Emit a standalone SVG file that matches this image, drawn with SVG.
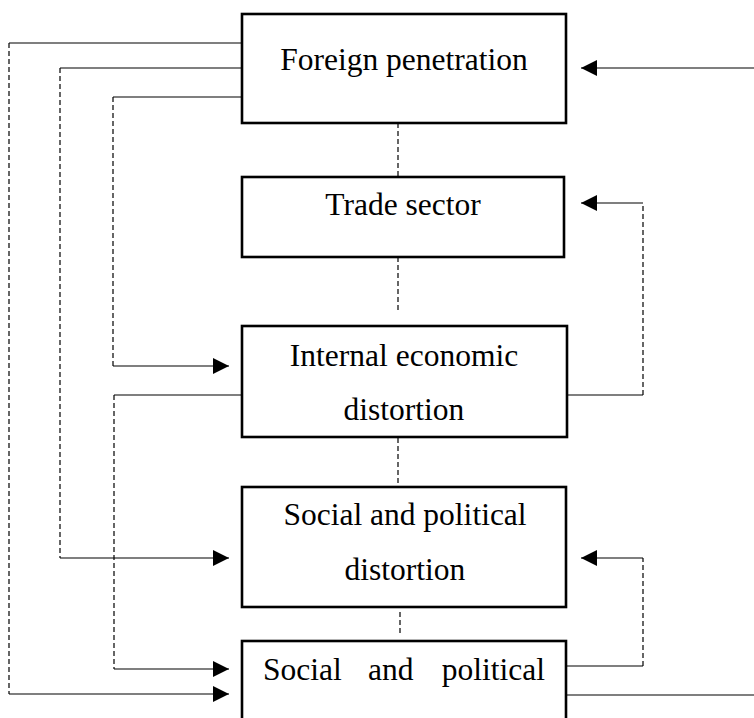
<svg xmlns="http://www.w3.org/2000/svg" width="754" height="718" viewBox="0 0 754 718">
<style>
.box{fill:#fff;stroke:#000;stroke-width:2.6}
.lbl{font-family:"Liberation Serif","Times New Roman",serif;font-size:31.5px;fill:#000}
.s{fill:none;stroke:#000;stroke-width:1.2}
.d{fill:none;stroke:#000;stroke-width:1.2;stroke-dasharray:5,3}
</style>
<defs>
<marker id="ah" markerUnits="userSpaceOnUse" markerWidth="16" markerHeight="16" refX="16" refY="8" orient="auto">
<path d="M0,0 L16,8 L0,16 z" fill="#000"/>
</marker>
</defs>
<rect width="754" height="718" fill="#fff"/>
<g id="connectors">
<path class="s" d="M242,43 H9"/><path class="d" d="M9,43 V694"/><path class="s" d="M9,694 H229" marker-end="url(#ah)"/>
<path class="s" d="M242,68 H60"/><path class="d" d="M60,68 V558"/><path class="s" d="M60,558 H229" marker-end="url(#ah)"/>
<path class="s" d="M242,97 H113"/><path class="d" d="M113,97 V366"/><path class="s" d="M113,366 H229" marker-end="url(#ah)"/>
<path class="s" d="M242,395 H114"/><path class="d" d="M114,395 V669"/><path class="s" d="M114,669 H229" marker-end="url(#ah)"/>
<path class="s" d="M754,68 H581" marker-end="url(#ah)"/>
<path class="s" d="M567,395 H643"/><path class="d" d="M643,395 V203"/><path class="s" d="M643,203 H581" marker-end="url(#ah)"/>
<path class="s" d="M567,666 H643"/><path class="d" d="M643,666 V558"/><path class="s" d="M643,558 H581" marker-end="url(#ah)"/>
<path class="s" d="M567,695 H754"/>
<path class="d" d="M398,123 V177"/>
<path class="d" d="M398,257 V312"/>
<path class="d" d="M398,438 V488"/>
<path class="d" d="M400,612 V635"/>
</g>
<g id="foreign">
<rect class="box" x="242" y="14" width="324" height="109"/>
<text class="lbl" x="404" y="70" text-anchor="middle">Foreign penetration</text>
</g>
<g id="trade">
<rect class="box" x="242" y="177" width="322" height="80"/>
<text class="lbl" x="403" y="215" text-anchor="middle">Trade sector</text>
</g>
<g id="internal">
<rect class="box" x="242" y="326" width="325" height="111"/>
<text class="lbl" x="404" y="366" text-anchor="middle">Internal economic</text>
<text class="lbl" x="404" y="420" text-anchor="middle">distortion</text>
</g>
<g id="social1">
<rect class="box" x="242" y="487" width="324" height="120"/>
<text class="lbl" x="405" y="525" text-anchor="middle">Social and political</text>
<text class="lbl" x="405" y="580" text-anchor="middle">distortion</text>
</g>
<g id="social2">
<rect class="box" x="242" y="641" width="324" height="100"/>
<text class="lbl" x="263" y="680">Social</text>
<text class="lbl" x="368" y="680">and</text>
<text class="lbl" x="545" y="680" text-anchor="end">political</text>
</g>
</svg>
